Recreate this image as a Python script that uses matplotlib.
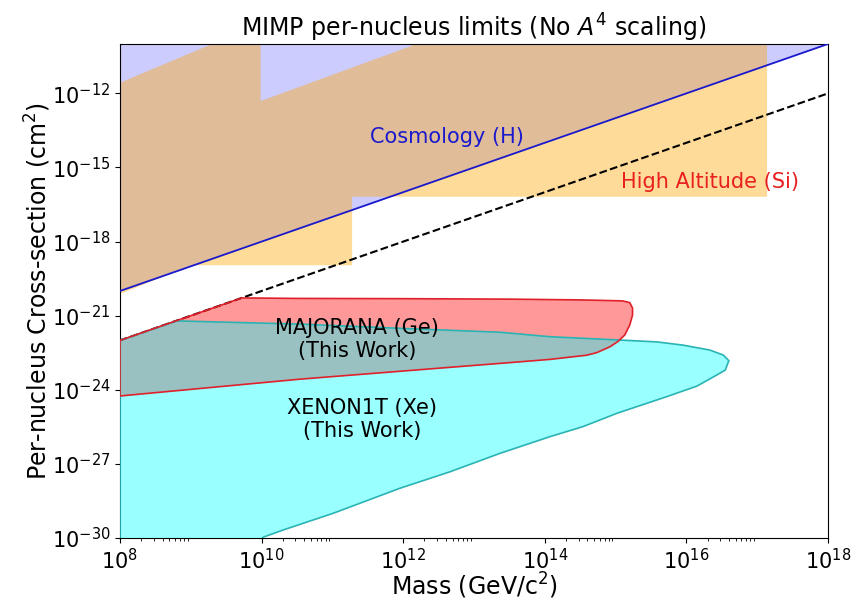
import numpy as np
import matplotlib
matplotlib.use('Agg')
import matplotlib.pyplot as plt
from matplotlib.ticker import FixedLocator, NullLocator

# Cosmology (H) limit line, sigma proportional to M
cosmo_mass = [1e8, 1e18]
cosmo_sigma = [1e-20, 1e-10]

# Dashed reference line
dash_mass = [1e8, 1e18]
dash_sigma = [1e-22, 1e-12]

# High Altitude (Si) excluded region (outline)
alt_mass = [1e8, 2.0e9, 9.7e9, 9.7e9, 1.55e12, 1.38e17, 1.38e17, 1.9e11, 1.9e11, 1.0e9, 1e8]
alt_sigma = [2.7e-12, 1e-10, 1e-10, 4.9e-13, 1e-10, 1e-10, 6.5e-17, 6.5e-17, 1.1e-19, 1.1e-19, 7.5e-21]

# MAJORANA (Ge) region (outline, log10 values)
maj_logm = [8.0, 9.72, 10.5, 12.0, 13.5, 14.5, 15.10, 15.20, 15.24, 15.24, 15.20, 15.13,
            15.03, 14.92, 14.73, 14.59, 14.07, 13.37, 12.66, 10.54, 8.0]
maj_logs = [-22.0, -20.28, -20.30, -20.31, -20.33, -20.36, -20.40, -20.47, -20.69, -20.97, -21.38, -21.78,
            -22.05, -22.26, -22.50, -22.60, -22.77, -22.93, -23.09, -23.57, -24.25]

# XENON1T (Xe) region (outline, log10 values)
xe_logm = [8.0, 8.80, 9.60, 10.54, 11.95, 13.37, 14.07, 15.02, 15.58, 15.95, 16.33, 16.52, 16.60,
           16.55, 16.43, 16.15, 15.72, 15.02, 14.54, 14.07, 13.37, 12.66, 11.95, 11.01, 10.30,
           10.02, 9.90, 8.0]
xe_logs = [-22.0, -21.21, -21.27, -21.34, -21.51, -21.67, -21.85, -21.98, -22.06, -22.19, -22.39, -22.59, -22.82,
           -23.20, -23.40, -23.85, -24.28, -24.95, -25.49, -25.90, -26.57, -27.32, -27.99, -29.00, -29.68,
           -29.97, -30.5, -30.5]

x_major = [1e8, 1e10, 1e12, 1e14, 1e16, 1e18]
y_major = [1e-30, 1e-27, 1e-24, 1e-21, 1e-18, 1e-15, 1e-12]

fig = plt.figure(figsize=(8.54, 6.01), dpi=100)
ax = fig.add_axes([0.1405, 0.1048, 0.829, 0.822])
ax.set_xscale('log')
ax.set_yscale('log')

# Cosmology shaded region above the line
ax.fill_between(cosmo_mass, cosmo_sigma, [1e-10, 1e-10], color='blue', alpha=0.2, lw=0, zorder=1)

# High altitude region
ax.fill(alt_mass, alt_sigma, color='orange', alpha=0.4, lw=0, zorder=2)

# Lines
ax.plot(cosmo_mass, cosmo_sigma, color='#1a1acc', lw=1.3, zorder=3)
ax.plot(dash_mass, dash_sigma, color='black', ls='--', lw=1.5, zorder=3)

# Experiment regions
maj_m = 10.0 ** np.array(maj_logm)
maj_s = 10.0 ** np.array(maj_logs)
xe_m = 10.0 ** np.array(xe_logm)
xe_s = 10.0 ** np.array(xe_logs)
ax.fill(maj_m, maj_s, color='red', alpha=0.4, lw=0, zorder=4)
ax.fill(xe_m, xe_s, color='cyan', alpha=0.4, lw=0, zorder=5)
ax.fill(xe_m, xe_s, facecolor='none', edgecolor='#2ab3b3', lw=1.2, zorder=6)
ax.fill(maj_m, maj_s, facecolor='none', edgecolor='#e0202a', lw=1.2, zorder=7)

# Labels in the plot
ax.text(10**12.62, 10**-13.75, 'Cosmology (H)', color='#1a1acc', fontsize=15, ha='center', va='center', zorder=8)
ax.text(10**16.33, 10**-15.59, 'High Altitude (Si)', color='#e82020', fontsize=15, ha='center', va='center', zorder=8)
ax.text(10**11.35, 10**-21.95, 'MAJORANA (Ge)\n(This Work)', color='black', fontsize=15, ha='center', va='center',
        linespacing=1.2, zorder=8)
ax.text(10**11.42, 10**-25.2, 'XENON1T (Xe)\n(This Work)', color='black', fontsize=15, ha='center', va='center',
        linespacing=1.2, zorder=8)

ax.set_xlim(1e8, 1e18)
ax.set_ylim(1e-30, 1e-10)
ax.set_xticks(x_major)
ax.set_yticks(y_major)
# minor ticks only in the decade after each major tick
x_minor = [s * m for m in x_major[:-1] for s in range(2, 10)]
ax.xaxis.set_minor_locator(FixedLocator(x_minor))
ax.yaxis.set_minor_locator(NullLocator())
ax.tick_params(axis='both', which='major', labelsize=15)
ax.set_xlabel('Mass (GeV/c$^2$)', fontsize=17)
ax.set_ylabel('Per-nucleus Cross-section (cm$^2$)', fontsize=17)
ax.xaxis.set_label_coords(0.5, -0.066)
ax.yaxis.set_label_coords(-0.095, 0.5)
ax.set_title('MIMP per-nucleus limits (No $A^4$ scaling)', fontsize=17, pad=5)

plt.savefig('out.png', dpi=100)
